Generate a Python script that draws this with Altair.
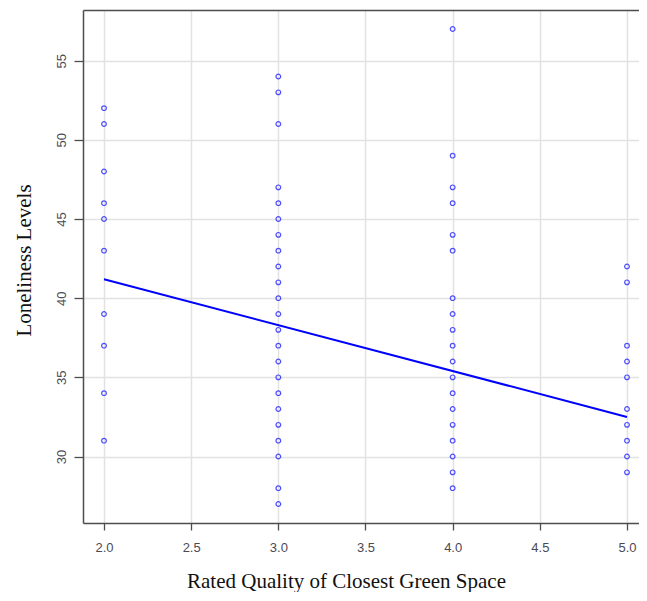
import altair as alt
import pandas as pd

# Loneliness levels observed at each rated quality of the closest green space
quality_levels = [2.0, 3.0, 4.0, 5.0]
loneliness_q2 = [52, 51, 48, 46, 45, 43, 39, 37, 34, 31]
loneliness_q3 = [54, 53, 51, 47, 46, 45, 44, 43, 42, 41, 40, 39, 38, 37, 36, 35,
                 34, 33, 32, 31, 30, 28, 27]
loneliness_q4 = [57, 49, 47, 46, 44, 43, 40, 39, 38, 37, 36, 35, 34, 33, 32, 31,
                 30, 29, 28]
loneliness_q5 = [42, 41, 37, 36, 35, 33, 32, 31, 30, 29]

# Fitted regression line
fit_x = [2.0, 5.0]
fit_y = [41.2, 32.5]

x_ticks = [2.0, 2.5, 3.0, 3.5, 4.0, 4.5, 5.0]
y_ticks = [30, 35, 40, 45, 50, 55]

rows = []
for q, vals in zip(quality_levels, [loneliness_q2, loneliness_q3, loneliness_q4, loneliness_q5]):
    for v in vals:
        rows.append({"quality": q, "loneliness": v})
points_df = pd.DataFrame(rows)
fit_df = pd.DataFrame({"quality": fit_x, "loneliness": fit_y})

label_color = "#4a4a55"
frame_color = "#4d4d4d"
x_scale = alt.Scale(domain=[1.8795, 5.0689], nice=False, zero=False)
y_scale = alt.Scale(domain=[25.8, 58.2], nice=False, zero=False)

x_enc = alt.X(
    "quality:Q", scale=x_scale,
    axis=alt.Axis(
        values=x_ticks, format=".1f", title="Rated Quality of Closest Green Space",
        domain=True, domainColor=frame_color, domainWidth=1.5,
        tickSize=7, tickColor=frame_color, tickWidth=1.3,
        labelFont="Liberation Sans", labelFontSize=13, labelColor=label_color,
        labelPadding=11,
        titleFont="Liberation Serif", titleFontSize=21, titleFontWeight="normal",
        titleColor="#111111", titleX=263, titleY=64, titleBaseline="alphabetic",
        titleAlign="center", titleAnchor="start",
        gridColor="#e2e2e2", gridWidth=1.5,
    ),
)
y_enc = alt.Y(
    "loneliness:Q", scale=y_scale,
    axis=alt.Axis(
        values=y_ticks, title="Loneliness Levels",
        domain=True, domainColor=frame_color, domainWidth=1.5,
        tickSize=9, tickColor=frame_color, tickWidth=1.3,
        labelFont="Liberation Sans", labelFontSize=13, labelColor=label_color,
        labelAngle=-90, labelAlign="center", labelBaseline="bottom", labelPadding=6,
        titleFont="Liberation Serif", titleFontSize=21, titleFontWeight="normal",
        titleColor="#111111", titleX=-59, titleY=250, titleBaseline="middle",
        titleAlign="center", titleAngle=-90, titleAnchor="start",
        gridColor="#e2e2e2", gridWidth=1.5,
    ),
)

points = alt.Chart(points_df).mark_point(
    shape="circle", filled=False, size=22, strokeWidth=1.2, color="#3c3cff", opacity=0.9
).encode(x=x_enc, y=y_enc)

# top frame line comes from a top axis of the fit layer
fit_line = alt.Chart(fit_df).mark_line(color="#0000ff", strokeWidth=2).encode(
    x=alt.X("quality:Q", scale=x_scale,
            axis=alt.Axis(orient="top", labels=False, ticks=False, grid=False, title="",
                          domain=True, domainColor=frame_color, domainWidth=1.5)),
    y=alt.Y("loneliness:Q", scale=y_scale),
)

chart = (
    alt.layer(points, fit_line)
    .resolve_scale(x="independent")
    .resolve_axis(x="independent")
    .properties(
        width=556, height=513,
        padding={"left": 75, "top": 2, "right": 0, "bottom": 69},
        autosize=alt.AutoSizeParams(type="none"),
        background="white",
    )
    .configure_view(stroke="transparent")
)

chart.save("out.html", embed_options={"renderer": "svg", "actions": False})
